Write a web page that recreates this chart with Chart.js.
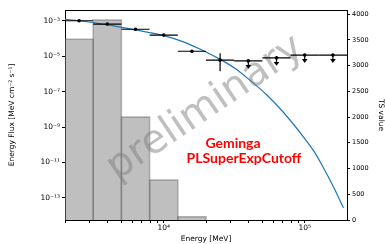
<!DOCTYPE html>
<html><head><meta charset="utf-8">
<script src="https://cdn.jsdelivr.net/npm/chart.js@4.4.0/dist/chart.umd.min.js"></script>
<style>html,body{margin:0;padding:0;background:#fff;} canvas{display:block;}</style>
</head><body>
<canvas id="c" width="385" height="244"></canvas>
<script>
// ---- data ----
const binEdges = [1995, 3162, 5012, 7943, 12589, 19953, 31623, 50119, 79433, 125893, 199526];
const tsValues = [3510, 3885, 2000, 775, 65, 0, 0, 0, 0, 0];
const sedEnergy = [2512, 3981, 6310, 10000, 15849, 25119, 39811, 63096, 100000, 158489];
const sedFlux   = [1.0e-3, 6.5e-4, 3.3e-4, 1.55e-4, 1.9e-5, 6.0e-6, null, null, null, null];
const sedFluxLo = [9.4e-4, 6.1e-4, 3.1e-4, 1.45e-4, 1.6e-5, 1.4e-6, null, null, null, null];
const sedFluxHi = [1.06e-3, 6.9e-4, 3.5e-4, 1.65e-4, 2.2e-5, 1.48e-5, null, null, null, null];
const sedUpperLimit = [null, null, null, null, null, null, 5.4e-6, 8.0e-6, 1.15e-5, 1.15e-5];
const modelEnergy = [1995, 2512, 3981, 6310, 10000, 13490, 18197, 25704, 32359, 40738, 53703, 70795, 100000, 116145, 134896, 158489, 188365];
const modelFlux   = [1.2e-3, 1.0e-3, 5.89e-4, 3.02e-4, 1.45e-4, 6.84e-5, 2.45e-5, 5.96e-6, 1.93e-6, 4.47e-7, 6.61e-8, 6.61e-9, 2.24e-10, 4.31e-11, 5.5e-12, 4.79e-13, 2.75e-14];
const xTickValues = [2000, 3000, 4000, 5000, 6000, 7000, 8000, 9000, 10000, 20000, 30000, 40000, 50000, 60000, 70000, 80000, 90000, 100000];
const xTickLabels = {10000: '10⁴', 100000: '10⁵'};
const yTickValues = [1e-13, 1e-11, 1e-9, 1e-7, 1e-5, 1e-3];
const yTickLabels = ['10⁻¹³', '10⁻¹¹', '10⁻⁹', '10⁻⁷', '10⁻⁵', '10⁻³'];
const tsTickValues = [0, 500, 1000, 1500, 2000, 2500, 3000, 3500, 4000];
const sourceName = 'Geminga';
const modelName = 'PLSuperExpCutoff';
const watermark = 'preliminary';

Chart.defaults.font.family = 'DejaVu Sans';
Chart.defaults.color = '#000';

const datasets = [];
// TS histogram bars (right axis)
binEdges.slice(0, -1).forEach((e0, i) => {
  if (tsValues[i] <= 0) return;
  const e1 = binEdges[i + 1];
  datasets.push({
    type: 'line', yAxisID: 'y2', order: 5,
    data: [{x: e0, y: 0}, {x: e0, y: tsValues[i]}, {x: e1, y: tsValues[i]}, {x: e1, y: 0}],
    fill: 'origin', backgroundColor: 'rgba(128,128,128,0.5)',
    borderColor: 'rgba(90,90,90,0.45)', borderWidth: 1.5, pointRadius: 0, tension: 0
  });
});
// model curve
datasets.push({
  type: 'line', yAxisID: 'y', order: 2,
  data: modelEnergy.map((e, i) => ({x: e, y: modelFlux[i]})),
  borderColor: '#1f77b4', borderWidth: 1.2, pointRadius: 0, fill: false,
  cubicInterpolationMode: 'monotone'
});
// SED points (fluxes and upper-limit markers)
datasets.push({
  type: 'scatter', yAxisID: 'y', order: 1,
  data: sedEnergy.map((e, i) => ({x: e, y: sedFlux[i] !== null ? sedFlux[i] : sedUpperLimit[i]})),
  backgroundColor: '#000', borderColor: '#000', pointRadius: 1.8, borderWidth: 0
});

const errorBarPlugin = {
  id: 'errorBars',
  afterDatasetsDraw(chart) {
    const {ctx, chartArea: a} = chart;
    const xs = chart.scales.x, ys = chart.scales.y;
    ctx.save();
    // watermark
    ctx.save();
    ctx.translate(205, 108);
    ctx.rotate(-34 * Math.PI / 180);
    ctx.font = '40px "DejaVu Sans"';
    ctx.fillStyle = 'rgba(128,128,128,0.5)';
    ctx.textAlign = 'center';
    ctx.textBaseline = 'alphabetic';
    ctx.fillText(watermark, 0, 10.9);
    ctx.restore();

    ctx.strokeStyle = '#000';
    ctx.fillStyle = '#000';
    ctx.lineWidth = 1.2;
    sedEnergy.forEach((e, i) => {
      const v = sedFlux[i] !== null ? sedFlux[i] : sedUpperLimit[i];
      const py = ys.getPixelForValue(v);
      const x0 = xs.getPixelForValue(binEdges[i]);
      const x1 = xs.getPixelForValue(binEdges[i + 1]);
      const px = xs.getPixelForValue(e);
      ctx.beginPath();
      ctx.moveTo(x0, py); ctx.lineTo(x1, py);
      if (sedFlux[i] !== null) {
        ctx.moveTo(px, ys.getPixelForValue(sedFluxLo[i]));
        ctx.lineTo(px, ys.getPixelForValue(sedFluxHi[i]));
        ctx.stroke();
      } else {
        ctx.moveTo(px, py); ctx.lineTo(px, py + 4.5);
        ctx.stroke();
        ctx.beginPath();
        ctx.moveTo(px - 2.8, py + 4);
        ctx.lineTo(px + 2.8, py + 4);
        ctx.lineTo(px, py + 7.8);
        ctx.closePath();
        ctx.fill();
      }
    });
    // labels
    ctx.fillStyle = '#ff0000';
    ctx.font = 'bold 14px Lato';
    ctx.textAlign = 'center';
    ctx.textBaseline = 'middle';
    ctx.fillText(sourceName, 233, 143.5);
    ctx.fillText(modelName, 244, 158.5);
    // top spine
    ctx.strokeStyle = '#000';
    ctx.lineWidth = 1;
    ctx.beginPath();
    ctx.moveTo(a.left, a.top + 0.5); ctx.lineTo(a.right, a.top + 0.5);
    ctx.stroke();
    ctx.restore();
  }
};

new Chart(document.getElementById('c'), {
  data: {datasets},
  options: {
    responsive: false, animation: false, devicePixelRatio: 1,
    layout: {padding: {top: 10, left: 0, right: 0, bottom: 0}},
    plugins: {legend: {display: false}, tooltip: {enabled: false}},
    scales: {
      x: {
        type: 'logarithmic', position: 'bottom', min: 1995.26, max: 199526.2,
        afterBuildTicks: s => { s.ticks = xTickValues.map(v => ({value: v})); },
        afterFit: s => { s.height = 24; },
        ticks: {autoSkip: false, maxRotation: 0, padding: 1, font: {size: 7.5},
                callback: v => xTickLabels[v] || ''},
        grid: {display: true, drawOnChartArea: false, tickLength: 3, color: '#000', tickColor: '#000'},
        border: {display: true, color: '#000', width: 1},
        title: {display: true, text: 'Energy [MeV]', font: {size: 7.5}, padding: {top: 0, bottom: 0}}
      },
      y: {
        type: 'logarithmic', position: 'left', min: 5.62e-15, max: 4.04e-3,
        afterBuildTicks: s => { s.ticks = yTickValues.map(v => ({value: v})); },
        afterFit: s => { s.width = 65; },
        ticks: {autoSkip: false, padding: 2, font: {size: 7.5},
                callback: (v, i) => yTickLabels[i]},
        grid: {display: true, drawOnChartArea: false, tickLength: 3, color: '#000', tickColor: '#000'},
        border: {display: true, color: '#000', width: 1},
        title: {display: true, text: 'Energy Flux [MeV cm⁻² s⁻¹]', font: {size: 7.5}, padding: {top: 8, bottom: 0}}
      },
      y2: {
        type: 'linear', position: 'right', min: 0, max: 4080,
        afterBuildTicks: s => { s.ticks = tsTickValues.map(v => ({value: v})); },
        afterFit: s => { s.width = 38; },
        ticks: {autoSkip: false, padding: 2, font: {size: 6.5}, callback: v => String(v)},
        grid: {display: true, drawOnChartArea: false, tickLength: 3, color: '#000', tickColor: '#000'},
        border: {display: true, color: '#000', width: 1},
        title: {display: true, text: 'TS value', font: {size: 7.5}, padding: {top: 0, bottom: 0}}
      }
    }
  },
  plugins: [errorBarPlugin]
});
</script>
</body></html>
